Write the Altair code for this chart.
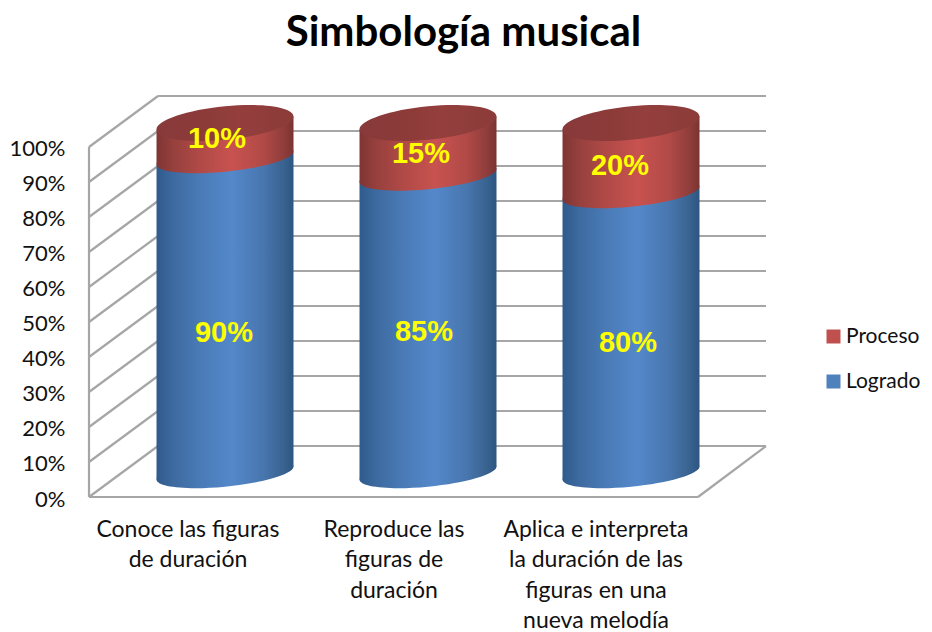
import json
import altair as alt
import pandas as pd

title_text = "Simbología musical"
categories = [
    ["Conoce las figuras", "de duración"],
    ["Reproduce las", "figuras de", "duración"],
    ["Aplica e interpreta", "la duración de las", "figuras en una", "nueva melodía"],
]
logrado = [90, 85, 80]
proceso = [10, 15, 20]
y_ticks = [0, 10, 20, 30, 40, 50, 60, 70, 80, 90, 100]
series_names = ["Proceso", "Logrado"]
series_colors = ["#C0504D", "#4F81BD"]

LABEL_FONT = "Lato"
GRID = "#A6A6A6"
DEPTH_X = 0.34        # wall depth in category units
DEPTH_Y = 14.57       # wall depth in percent units
BASE = 6.86           # cylinder floor position inside the depth
CENTER = 0.67         # cylinder centre inside a category
HALF = 0.3374         # cylinder half width in category units
TILT = 1.86           # tilt of the ellipses in percent units
SIZE = 137 ** 2

xs = alt.Scale(domain=[0, 677 / 203], nice=False, zero=False)
ys = alt.Scale(domain=[0, 114.57], nice=False, zero=False)


def sheared_ellipse(shear=0.095, minor=0.245):
    k = 0.5523
    def p(u, v):
        return f"{u:.4f},{-shear * u + minor * v:.4f}"
    return (
        f"M{p(-1, 0)}C{p(-1, -k)} {p(-k, -1)} {p(0, -1)}"
        f"C{p(k, -1)} {p(1, -k)} {p(1, 0)}"
        f"C{p(1, k)} {p(k, 1)} {p(0, 1)}"
        f"C{p(-k, 1)} {p(-1, k)} {p(-1, 0)}Z"
    )


def grad(stops):
    return alt.Gradient(
        gradient="linear", x1=0, x2=1, y1=0, y2=0,
        stops=[alt.GradientStop(offset=o, color=c) for o, c in stops],
    )


BLUE = grad([(0, "#2F5A8C"), (0.12, "#3D6A9F"), (0.32, "#4A7BB7"), (0.55, "#5488CA"),
             (0.78, "#4876AE"), (0.93, "#38628F"), (1, "#2D5682")])
RED = grad([(0, "#7E3533"), (0.12, "#96403D"), (0.32, "#B04A47"), (0.55, "#C8524F"),
            (0.78, "#B14A47"), (0.93, "#8F3D3B"), (1, "#7A3331")])
CAP = grad([(0, "#88393A"), (0.35, "#8C3B39"), (0.6, "#943F3D"), (1, "#8B3B39")])

label_lookup = json.dumps(categories, ensure_ascii=False)
y_axis = alt.Axis(
    values=y_ticks, labelExpr="datum.value + '%'", domain=False, ticks=False, grid=False,
    labelFont=LABEL_FONT, labelFontSize=22, labelColor="#111111", labelPadding=24, title=None,
    labelOffset=2,
)
x_axis = alt.Axis(
    values=[0.485, 1.5, 2.495], labelExpr=f"{label_lookup}[floor(datum.value)]",
    domain=False, ticks=False, grid=False, labelFont=LABEL_FONT, labelFontSize=23,
    labelColor="#111111", labelPadding=21, labelLineHeight=30.5, labelAngle=0,
    labelOverlap=False, labelLimit=400, labelFlush=False, labelBound=False, title=None,
)

X = lambda f="x": alt.X(f"{f}:Q", scale=xs, axis=x_axis, title=None)
Y = lambda f="y": alt.Y(f"{f}:Q", scale=ys, axis=y_axis, title=None, stack=None)

# walls and floor
back = pd.DataFrame({"x": DEPTH_X, "x2": 677 / 203, "y": [t + DEPTH_Y for t in y_ticks]})
side = pd.DataFrame({"x": 0.0, "x2": DEPTH_X, "y": y_ticks, "y2": [t + DEPTH_Y for t in y_ticks]})
floor_right = pd.DataFrame({"x": [3.0], "x2": [677 / 203], "y": [0.0], "y2": [DEPTH_Y]})
floor_front = pd.DataFrame({"x": [0.0], "x2": [3.0], "y": [0.0]})

rule = dict(color=GRID, strokeWidth=2.2)
left_axis = alt.Chart(pd.DataFrame({"x": [0.0], "y": [0.0], "y2": [100.0]})).mark_rule(**rule).encode(
    x=X(), y=Y(), y2="y2:Q",
)
back_lines = alt.Chart(back).mark_rule(**rule).encode(x=X(), x2="x2:Q", y=Y())
side_lines = alt.Chart(side).mark_rule(**rule).encode(x=X(), x2="x2:Q", y=Y(), y2="y2:Q")
right_line = alt.Chart(floor_right).mark_rule(**rule).encode(x=X(), x2="x2:Q", y=Y(), y2="y2:Q")
front_line = alt.Chart(floor_front).mark_rule(**rule).encode(x=X(), x2="x2:Q", y=Y())

# stacked values, in a narrow core that carries the legend
rows = []
for i, (a, b) in enumerate(zip(logrado, proceso)):
    c = i + CENTER
    rows.append({"serie": "Logrado", "i": i, "c": c, "lo": BASE, "hi": BASE + a})
    rows.append({"serie": "Proceso", "i": i, "c": c, "lo": BASE + a, "hi": BASE + a + b})
seg = pd.DataFrame(rows)
seg["x"] = seg["c"] - 0.08
seg["x2"] = seg["c"] + 0.08

core = alt.Chart(seg).mark_bar().encode(
    x=X(), x2="x2:Q", y=Y("lo"), y2="hi:Q",
    color=alt.Color(
        "serie:N",
        scale=alt.Scale(domain=series_names, range=series_colors),
        legend=alt.Legend(
            title=None, orient="none", legendX=734, legendY=230, symbolType="square",
            symbolSize=196, symbolStrokeWidth=0, labelFont=LABEL_FONT, labelFontSize=21,
            labelColor="#111111", rowPadding=23, labelOffset=2, padding=0,
        ),
    ),
)

# tilted cylinder bodies
body_rows = []
for r in rows:
    body_rows.append({**r, "x": r["c"] - HALF, "y": r["lo"] - TILT, "y2": r["hi"] - TILT})
    body_rows.append({**r, "x": r["c"] + HALF, "y": r["lo"] + TILT, "y2": r["hi"] + TILT})
body = pd.DataFrame(body_rows)


def area(name, fill):
    return alt.Chart(body[body["serie"] == name]).mark_area(fill=fill, opacity=1, strokeWidth=0).encode(
        x=X(), y=Y(), y2="y2:Q", detail="i:N"
    )


def ellipse(df, field, fill, minor):
    return alt.Chart(df).mark_point(
        shape=sheared_ellipse(minor=minor), filled=True, fill=fill, opacity=1, strokeWidth=0, size=SIZE
    ).encode(x=X("c"), y=Y(field))


blue_rows = seg[seg["serie"] == "Logrado"]
red_rows = seg[seg["serie"] == "Proceso"]

# data labels
label_dx = {"Logrado": [-1, -4, -3], "Proceso": [-8, -7, -11]}
label_dy = {"Logrado": [18, 8, 10], "Proceso": [-1, 5, 8]}
labels = []
for _, r in seg.iterrows():
    val = (r["hi"] - r["lo"])
    t = alt.Chart(pd.DataFrame({"c": [r["c"]], "m": [(r["lo"] + r["hi"]) / 2], "t": [f"{val:.0f}%"]})).mark_text(
        font="Liberation Sans", fontWeight="bold", fontSize=29, color="#FFFF00",
        baseline="middle", align="center",
        dx=label_dx[r["serie"]][r["i"]], dy=label_dy[r["serie"]][r["i"]],
    ).encode(x=X("c"), y=Y("m"), text="t:N")
    labels.append(t)

chart = alt.layer(
    left_axis, back_lines, side_lines, right_line, front_line, core,
    ellipse(blue_rows, "lo", BLUE, 0.2), area("Logrado", BLUE),
    ellipse(red_rows, "lo", RED, 0.2), area("Proceso", RED),
    ellipse(red_rows, "hi", CAP, 0.245),
    *labels,
).properties(
    width=677, height=401,
    padding={"left": 81, "top": 88, "right": 158, "bottom": 135},
    autosize=alt.AutoSizeParams(type="none"),
    title=alt.TitleParams(
        title_text, font=LABEL_FONT, fontSize=42, fontWeight="bold", color="#000000",
        anchor="middle", dx=36, offset=40, limit=800,
    ),
).configure_view(stroke=None)

chart.save("out.html", embed_options={"renderer": "svg", "actions": False})
